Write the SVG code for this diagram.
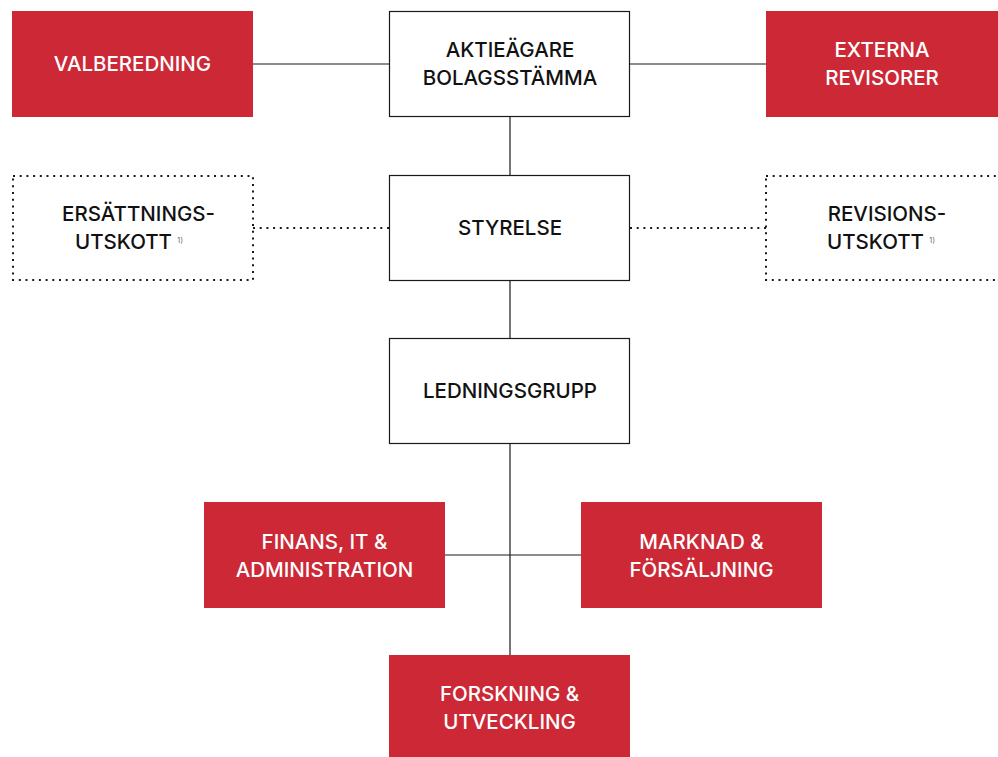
<svg xmlns="http://www.w3.org/2000/svg" width="998" height="757" viewBox="0 0 998 757">
<style>
.red{fill:#cc2836}
.wht{fill:#fff;stroke:#1a1a1a;stroke-width:1.2}
.dot{fill:none;stroke:#1a1a1a;stroke-width:2;stroke-dasharray:2 4.7}
.ln{stroke:#1a1a1a;stroke-width:1.2;fill:none}
.dl{stroke:#1a1a1a;stroke-width:2;stroke-dasharray:2 4.7;fill:none}
text{font-family:Inter,"Liberation Sans",sans-serif;font-weight:500;font-size:20.5px;text-anchor:middle}
.tw{fill:#fff}
.tb{fill:#111}
.e{text-anchor:end}
.fn{font-size:8px;fill:#777;font-weight:400;text-anchor:start}
</style>
<rect width="998" height="757" fill="#fff"/>
<g id="connectors">
<line class="ln" x1="253" y1="64" x2="389" y2="64"/>
<line class="ln" x1="630" y1="64" x2="766" y2="64"/>
<line class="ln" x1="510" y1="117" x2="510" y2="175"/>
<line class="dl" x1="253" y1="228" x2="389" y2="228"/>
<line class="dl" x1="630" y1="228" x2="766" y2="228"/>
<line class="ln" x1="510" y1="281" x2="510" y2="338"/>
<line class="ln" x1="510" y1="444" x2="510" y2="655"/>
<line class="ln" x1="445" y1="555" x2="581" y2="555"/>
</g>
<g id="valberedning"><rect class="red" x="12" y="11" width="241" height="106"/><text class="tw" x="132.5" y="71">VALBEREDNING</text></g>
<g id="aktieagare"><rect class="wht" x="389.5" y="11.5" width="240" height="105"/><text class="tb" x="510" y="57">AKTIEÄGARE</text><text class="tb" x="510" y="85">BOLAGSSTÄMMA</text></g>
<g id="externa"><rect class="red" x="766" y="11" width="232" height="106"/><text class="tw" x="882" y="57">EXTERNA</text><text class="tw" x="882" y="85">REVISORER</text></g>
<g id="ersattning"><rect class="dot" x="13" y="176" width="240" height="104"/><text class="tb" x="138.5" y="221">ERSÄTTNINGS-</text><text class="tb e" x="172" y="249">UTSKOTT</text><text class="fn" x="177" y="243">1)</text></g>
<g id="styrelse"><rect class="wht" x="389.5" y="175.5" width="240" height="105"/><text class="tb" x="510" y="235">STYRELSE</text></g>
<g id="revision"><rect class="dot" x="766" y="176" width="240" height="104"/><text class="tb" x="887" y="221">REVISIONS-</text><text class="tb e" x="924" y="249">UTSKOTT</text><text class="fn" x="929" y="243">1)</text></g>
<g id="ledningsgrupp"><rect class="wht" x="389.5" y="338.5" width="240" height="105"/><text class="tb" x="510" y="398">LEDNINGSGRUPP</text></g>
<g id="finans"><rect class="red" x="204" y="502" width="241" height="106"/><text class="tw" x="324.5" y="549">FINANS, IT &amp;</text><text class="tw" x="324.5" y="577">ADMINISTRATION</text></g>
<g id="marknad"><rect class="red" x="581" y="502" width="241" height="106"/><text class="tw" x="701.5" y="549">MARKNAD &amp;</text><text class="tw" x="701.5" y="577">FÖRSÄLJNING</text></g>
<g id="forskning"><rect class="red" x="389" y="655" width="241" height="102"/><text class="tw" x="509.5" y="701">FORSKNING &amp;</text><text class="tw" x="509.5" y="729">UTVECKLING</text></g>
</svg>
